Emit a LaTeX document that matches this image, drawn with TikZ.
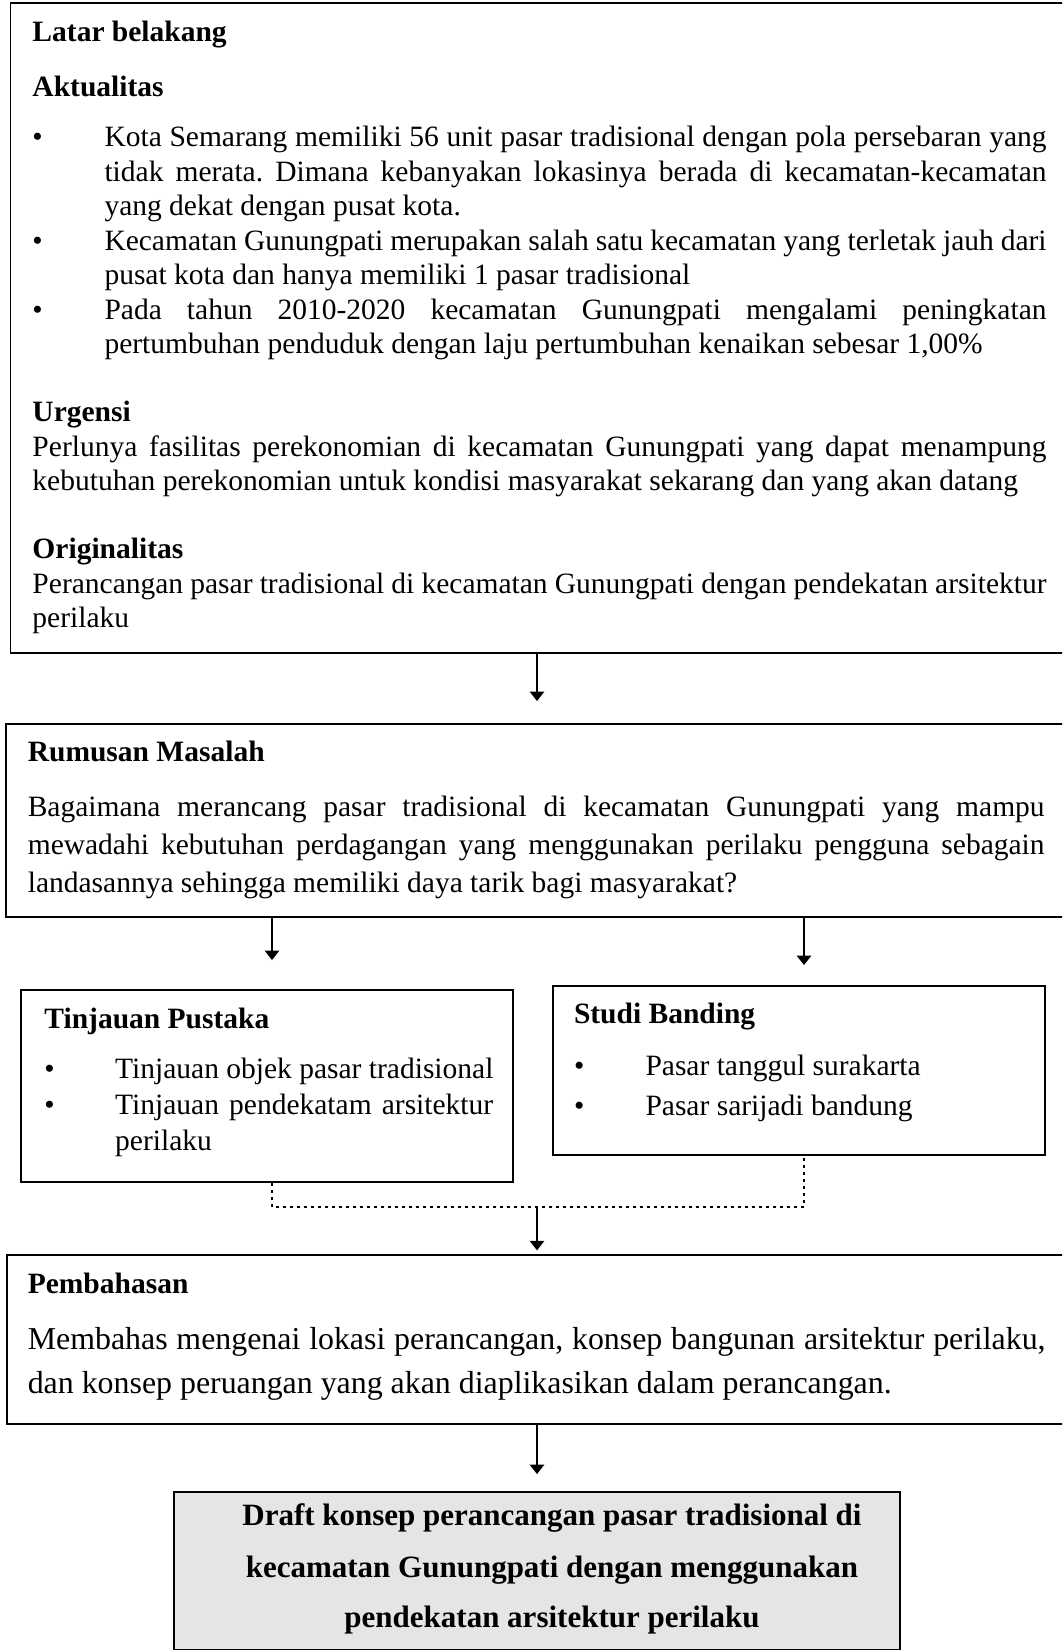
\documentclass[tikz,border=0pt]{standalone}
\usepackage{fontspec}
\setmainfont{Liberation Serif}
\usetikzlibrary{arrows.meta,fit}
\newcommand{\myjust}[2]{\makebox[#1][s]{#2}}
\frenchspacing
\begin{document}
\begin{tikzpicture}[x=0.4pt,y=-0.4pt,
  box/.style={draw, line width=0.75pt, inner sep=0pt},
  txt/.style={anchor=base west, inner sep=0pt, font=\fontsize{11.8}{14}\selectfont},
  btxt/.style={anchor=base west, inner sep=0pt, font=\fontsize{12.75}{15}\selectfont},
  ctr/.style={anchor=base, inner sep=0pt, font=\fontsize{12.4}{15}\selectfont\bfseries},
  arr/.style={line width=0.55pt, -{Triangle[length=3.8pt,width=5.8pt]}},
  dotline/.style={line width=1.1pt, dash pattern=on 1.1pt off 1.7pt},
]
\useasboundingbox (0,0) rectangle (1062,1651);
\clip (0,0) rectangle (1062,1651);

% boxes
\coordinate (t1) at (10.5,3);    \coordinate (t2) at (1085,653);
\coordinate (r1) at (6,724);     \coordinate (r2) at (1085,917);
\coordinate (p1) at (21,990);    \coordinate (p2) at (513,1182);
\coordinate (s1) at (553,986);   \coordinate (s2) at (1045,1155);
\coordinate (b1) at (6.7,1255);  \coordinate (b2) at (1085,1424);
\coordinate (f1) at (174,1492);  \coordinate (f2) at (900,1649.5);
\node[box, fit=(t1)(t2)] (top) {};
\node[box, fit=(r1)(r2)] (rum) {};
\node[box, fit=(p1)(p2)] (tin) {};
\node[box, fit=(s1)(s2)] (stu) {};
\node[box, fit=(b1)(b2)] (pem) {};
\node[box, fill=black!10, fit=(f1)(f2)] (fin) {};

% top box text
\node[txt] (lb) at (32,41.7) {\textbf{Latar belakang}};
\node[txt] (ak) at (32,96.7) {\textbf{Aktualitas}};
\node[txt] (d1) at (32,146.7) {•};
\node[txt] (a1) at (104,146.7) {\myjust{376.8pt}{Kota Semarang memiliki 56 unit pasar tradisional dengan pola persebaran yang}};
\node[txt] (a2) at (104,181.2) {\myjust{376.8pt}{tidak merata. Dimana kebanyakan lokasinya berada di kecamatan-kecamatan}};
\node[txt] (a3) at (104,215.7) {yang dekat dengan pusat kota.};
\node[txt] (d2) at (32,250.2) {•};
\node[txt] (a4) at (104,250.2) {\myjust{376.8pt}{Kecamatan Gunungpati merupakan salah satu kecamatan yang terletak jauh dari}};
\node[txt] (a5) at (104,284.7) {pusat kota dan hanya memiliki 1 pasar tradisional};
\node[txt] (d3) at (32,319.2) {•};
\node[txt] (a6) at (104,319.2) {\myjust{376.8pt}{Pada tahun 2010-2020 kecamatan Gunungpati mengalami peningkatan}};
\node[txt] (a7) at (104,353.7) {pertumbuhan penduduk dengan laju pertumbuhan kenaikan sebesar 1,00\%};
\node[txt] (ur) at (32,421.8) {\textbf{Urgensi}};
\node[txt] (u1) at (32,456.3) {\myjust{405.6pt}{Perlunya fasilitas perekonomian di kecamatan Gunungpati yang dapat menampung}};
\node[txt] (u2) at (32,490.8) {kebutuhan perekonomian untuk kondisi masyarakat sekarang dan yang akan datang};
\node[txt] (or) at (32,558.9) {\textbf{Originalitas}};
\node[txt] (o1) at (32,593.4) {\myjust{405.6pt}{Perancangan pasar tradisional di kecamatan Gunungpati dengan pendekatan arsitektur}};
\node[txt] (o2) at (32,627.9) {perilaku};

% rumusan
\node[txt] (rh) at (27.3,761.7) {\textbf{Rumusan Masalah}};
\node[txt] (r1t) at (27.3,816.7) {\myjust{406.7pt}{Bagaimana merancang pasar tradisional di kecamatan Gunungpati yang mampu}};
\node[txt] (r2t) at (27.3,854.7) {\myjust{406.7pt}{mewadahi kebutuhan perdagangan yang menggunakan perilaku pengguna sebagain}};
\node[txt] (r3t) at (27.3,892.7) {landasannya sehingga memiliki daya tarik bagi masyarakat?};

% tinjauan
\node[txt] (th) at (44,1028) {\textbf{Tinjauan Pustaka}};
\node[txt] (td1) at (44,1078) {•};
\node[txt] (t1t) at (114.7,1078) {Tinjauan objek pasar tradisional};
\node[txt] (td2) at (44,1114) {•};
\node[txt] (t2t) at (114.7,1114) {\myjust{151.2pt}{Tinjauan pendekatam arsitektur}};
\node[txt] (t3t) at (114.7,1150) {perilaku};

% studi banding
\node[txt] (sh) at (573.5,1023) {\textbf{Studi Banding}};
\node[txt] (sd1) at (573.5,1075) {•};
\node[txt] (s1t) at (645,1075) {Pasar tanggul surakarta};
\node[txt] (sd2) at (573.5,1115) {•};
\node[txt] (s2t) at (645,1115) {Pasar sarijadi bandung};

% pembahasan
\node[txt] (ph) at (27.3,1293) {\textbf{Pembahasan}};
\node[btxt] (p1t) at (27.3,1349) {\myjust{407.1pt}{Membahas mengenai lokasi perancangan, konsep bangunan arsitektur perilaku,}};
\node[btxt] (p2t) at (27.3,1393) {dan konsep peruangan yang akan diaplikasikan dalam perancangan.};

% final
\node[ctr] (f1t) at (552,1525) {Draft konsep perancangan pasar tradisional di};
\node[ctr] (f2t) at (552,1577) {kecamatan Gunungpati dengan menggunakan};
\node[ctr] (f3t) at (552,1627) {pendekatan arsitektur perilaku};

% connectors
\coordinate (xa) at (272,0);
\coordinate (xb) at (804,0);
\coordinate (xc) at (537,0);
\coordinate (dj) at (537,1207);
\draw[arr, shorten >=8.8pt] (top.south -| xc) -- (rum.north -| xc);
\draw[arr, shorten >=11.6pt] (rum.south -| xa) -- (tin.north -| xa);
\draw[arr, shorten >=8pt] (rum.south -| xb) -- (stu.north -| xb);
\draw[dotline] (tin.south -| xa) -- (xa |- dj) -- (xb |- dj) -- (stu.south -| xb);
\draw[arr, shorten >=1.5pt] (dj) -- (pem.north -| dj);
\draw[arr, shorten >=6.8pt] (pem.south -| xc) -- (fin.north -| xc);
\end{tikzpicture}
\end{document}
